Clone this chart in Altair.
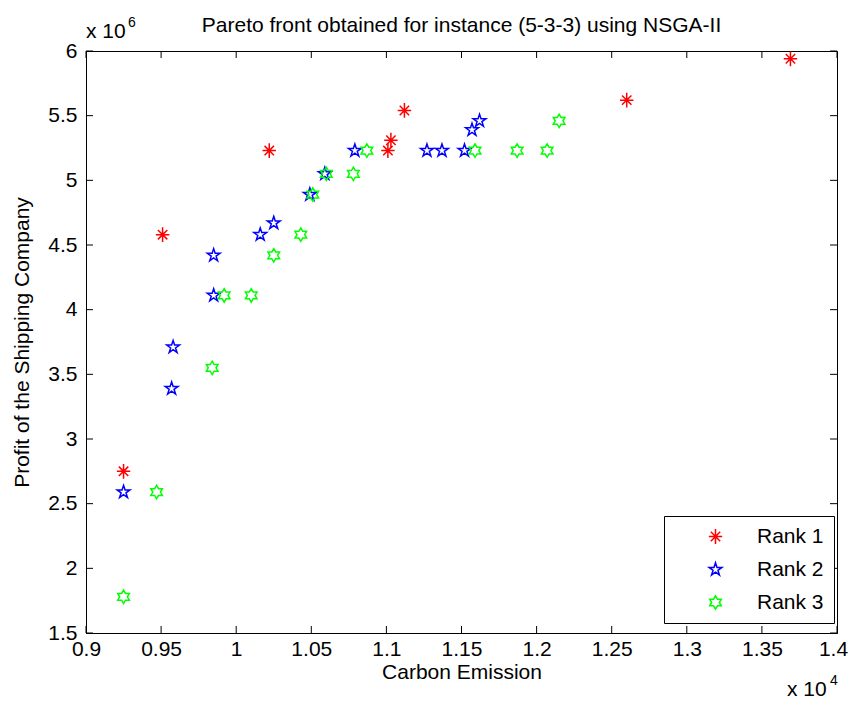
import altair as alt
import pandas as pd

# ---- data (x in units of 10^4, y in units of 10^6) ----
rank1_x = [0.925, 0.951, 1.022, 1.101, 1.103, 1.112, 1.260, 1.369]
rank1_y = [2.75, 4.58, 5.23, 5.23, 5.31, 5.54, 5.62, 5.94]

rank2_x = [0.925, 0.957, 0.958, 0.985, 0.985, 1.016, 1.025, 1.049, 1.059, 1.079,
           1.127, 1.137, 1.152, 1.157, 1.162]
rank2_y = [2.59, 3.39, 3.71, 4.11, 4.42, 4.58, 4.67, 4.89, 5.05, 5.23,
           5.23, 5.23, 5.23, 5.39, 5.46]

rank3_x = [0.925, 0.947, 0.984, 0.992, 1.010, 1.025, 1.043, 1.051, 1.060, 1.078,
           1.087, 1.159, 1.187, 1.207, 1.215]
rank3_y = [1.78, 2.59, 3.55, 4.11, 4.11, 4.42, 4.58, 4.89, 5.05, 5.05,
           5.23, 5.23, 5.23, 5.23, 5.46]

series_names = ["Rank 1", "Rank 2", "Rank 3"]
series_colors = ["#ff0000", "#0000ff", "#00ff00"]

x_ticks = [0.9, 0.95, 1.0, 1.05, 1.1, 1.15, 1.2, 1.25, 1.3, 1.35, 1.4]
y_ticks = [1.5, 2, 2.5, 3, 3.5, 4, 4.5, 5, 5.5, 6]

TITLE = "Pareto front obtained for instance (5-3-3) using NSGA-II"
X_TITLE = "Carbon Emission"
Y_TITLE = "Profit of the Shipping Company"

# ---- marker shapes (unit coordinates) ----
ASTERISK = "M-1,0L1,0M0,-1.1L0,1.1M-0.7,-0.7L0.7,0.7M-0.7,0.7L0.7,-0.7"
PENTAGRAM = ("M0,-1L0.2245,-0.309L0.951,-0.309L0.363,0.118L0.588,0.809L0,0.382"
             "L-0.588,0.809L-0.363,0.118L-0.951,-0.309L-0.2245,-0.309Z")
HEXAGRAM = ("M0,-1L0.2887,-0.5L0.866,-0.5L0.577,0L0.866,0.5L0.2887,0.5L0,1"
            "L-0.2887,0.5L-0.866,0.5L-0.577,0L-0.866,-0.5L-0.2887,-0.5Z")
series_shapes = [ASTERISK, PENTAGRAM, HEXAGRAM]

W, H = 751, 582
FONT = "Liberation Sans"
FS = 21

rows = []
for name, xs, ys in zip(series_names, [rank1_x, rank2_x, rank3_x], [rank1_y, rank2_y, rank3_y]):
    for a, b in zip(xs, ys):
        rows.append({"x": a, "y": b, "rank": name})
df = pd.DataFrame(rows)

xscale = alt.Scale(domain=[0.9, 1.4], nice=False, zero=False)
yscale = alt.Scale(domain=[1.5, 6], nice=False, zero=False)

x_axis = alt.Axis(values=x_ticks, title=X_TITLE, format="~g", ticks=False, grid=False,
                  labelPadding=5, titleY=39, titleX=W / 2, titleBaseline="middle",
                  labelFlush=False,
                  labelOffset={"condition": {"test": "datum.value >= 1.39", "value": -4},
                               "value": 0})
y_axis = alt.Axis(values=y_ticks, title=Y_TITLE, format="~g", ticks=False, grid=False,
                  labelPadding=9, titleX=-64, titleY=H / 2, titleBaseline="middle",
                  titleAngle=-90, titleAlign="center", labelFlush=False)

points = alt.Chart(df).mark_point(filled=False, size=180, strokeWidth=1.5, opacity=1).encode(
    x=alt.X("x:Q", scale=xscale, axis=x_axis),
    y=alt.Y("y:Q", scale=yscale, axis=y_axis),
    color=alt.Color("rank:N", scale=alt.Scale(domain=series_names, range=series_colors),
                    legend=alt.Legend(title=None, orient="none", legendX=578, legendY=465,
                                      strokeColor="black", fillColor="white", padding=10,
                                      labelFontSize=FS, labelFont=FONT, labelColor="black",
                                      symbolOffset=31, labelOffset=31, rowPadding=11,
                                      symbolSize=180, symbolStrokeWidth=1.5)),
    shape=alt.Shape("rank:N", scale=alt.Scale(domain=series_names, range=series_shapes)),
    order=alt.Order("rank:N"),
)

xt = pd.DataFrame({"x": x_ticks})
yt = pd.DataFrame({"y": y_ticks})
tick_len = 7
tb = alt.Chart(xt).mark_rule(color="black", strokeWidth=1).encode(
    x=alt.X("x:Q", scale=xscale, axis=x_axis), y=alt.value(H), y2=alt.value(H - tick_len))
tt = alt.Chart(xt).mark_rule(color="black", strokeWidth=1).encode(
    x=alt.X("x:Q", scale=xscale, axis=x_axis), y=alt.value(0), y2=alt.value(tick_len))
tl = alt.Chart(yt).mark_rule(color="black", strokeWidth=1).encode(
    y=alt.Y("y:Q", scale=yscale, axis=y_axis), x=alt.value(0), x2=alt.value(tick_len))
tr = alt.Chart(yt).mark_rule(color="black", strokeWidth=1).encode(
    y=alt.Y("y:Q", scale=yscale, axis=y_axis), x=alt.value(W), x2=alt.value(W - tick_len))


def label(text, x, y, size=FS, align="left", baseline="alphabetic"):
    return alt.Chart(pd.DataFrame({"t": [text]})).mark_text(
        font=FONT, fontSize=size, color="black", align=align, baseline=baseline
    ).encode(text="t:N", x=alt.value(x), y=alt.value(y))


title = label(TITLE, W / 2, -19, align="center")
mul_y = label("x 10", 0, -13)
mul_y_exp = label("6", 42, -24, size=14)
mul_x = label("x 10", 701, 645)
mul_x_exp = label("4", 744, 634, size=14)

chart = alt.layer(points, tb, tt, tl, tr, title, mul_y, mul_y_exp, mul_x, mul_x_exp).properties(
    width=W, height=H,
    autosize=alt.AutoSizeParams(type="none"),
    padding={"left": 78, "top": 43, "right": 11, "bottom": 68},
).configure_view(stroke="black", strokeWidth=1).configure_axis(
    domainColor="black", labelColor="black", titleColor="black",
    labelFont=FONT, titleFont=FONT, labelFontSize=FS, titleFontSize=FS,
    titleFontWeight="normal",
)

chart.save("out.html", embed_options={"renderer": "svg", "actions": False})
